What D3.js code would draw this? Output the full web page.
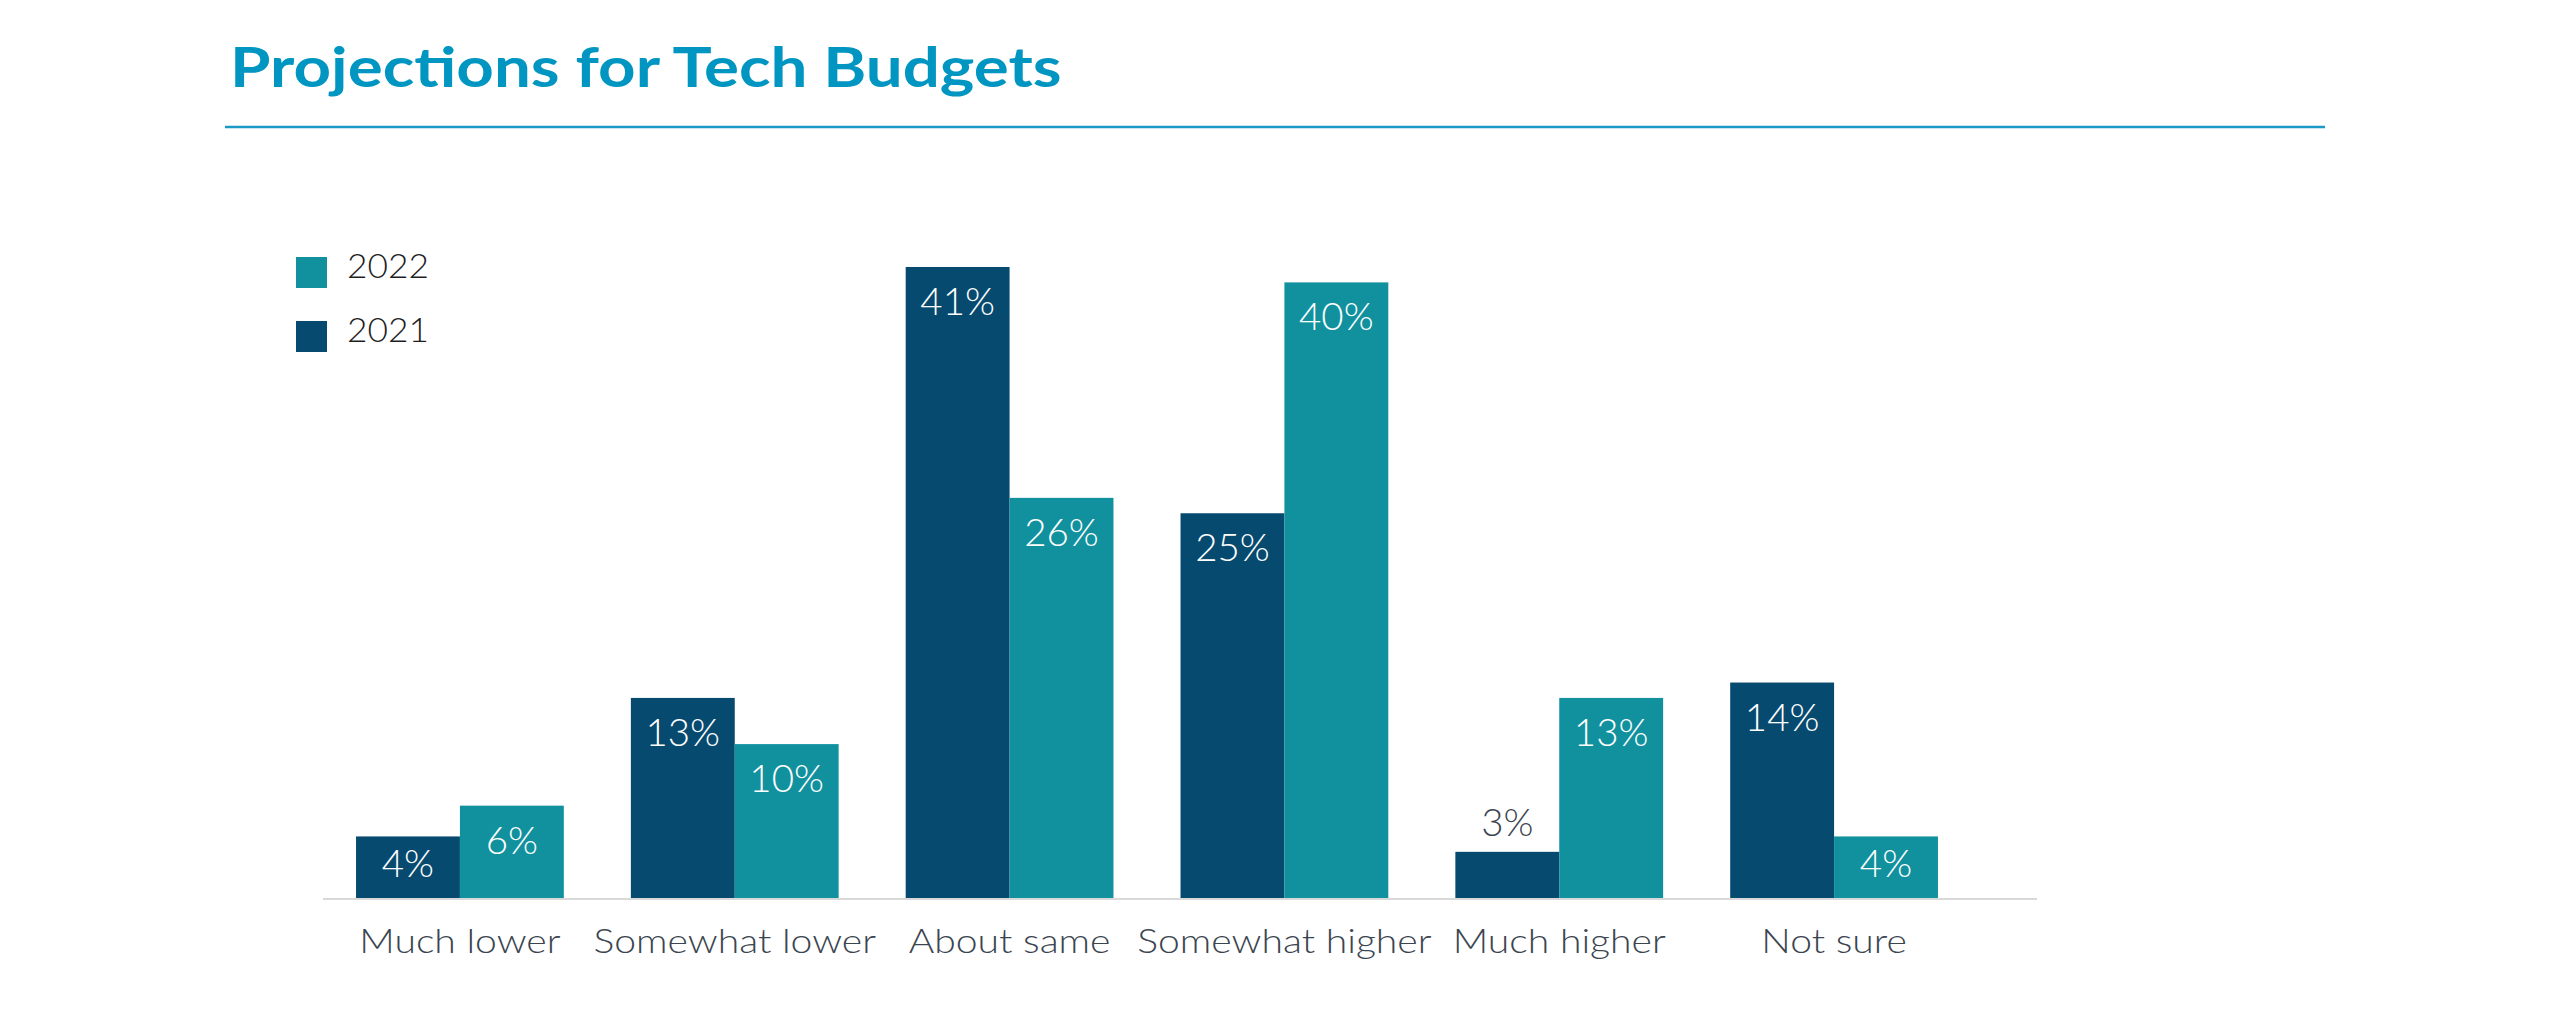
<!DOCTYPE html>
<html>
<head>
<meta charset="utf-8">
<script src="https://cdn.jsdelivr.net/npm/d3@7"></script>
<style>
  html, body { margin: 0; padding: 0; background: #fff; }
  svg { display: block; font-family: Lato, "Open Sans", sans-serif; }
</style>
</head>
<body>
<svg id="chart" width="2550" height="1019"></svg>
<script>
const categories = ["Much lower", "Somewhat lower", "About same", "Somewhat higher", "Much higher", "Not sure"];
const years = ["2021", "2022"];
const values2021 = [4, 13, 41, 25, 3, 14];
const values2022 = [6, 10, 26, 40, 13, 4];
const legendOrder = ["2022", "2021"];

const colors = { "2021": "#074a6f", "2022": "#11919e" };

const svg = d3.select("#chart");
const baseY = 898;

// the original face is wider than Lato, so stretch text a little
function widen(sel, k) {
  sel.each(function () {
    const w = this.getComputedTextLength();
    d3.select(this)
      .attr("textLength", w * k)
      .attr("lengthAdjust", "spacingAndGlyphs");
  });
}

const x = d3
  .scaleBand()
  .domain(categories)
  .range([322.5, 1971.5])
  .paddingInner(0.244)
  .paddingOuter(0.122);

const xInner = d3.scaleBand().domain(years).range([0, x.bandwidth()]);

const y = d3.scaleLinear().domain([0, 41]).range([baseY, 267]);

// title + rule
svg
  .append("text")
  .attr("x", 230)
  .attr("y", 87)
  .attr("fill", "#0096c1")
  .attr("font-size", 55)
  .attr("font-weight", 700)
  .text("Projections for Tech Budgets")
  .call(widen, 1.19);

svg
  .append("line")
  .attr("x1", 225)
  .attr("x2", 2325)
  .attr("y1", 127)
  .attr("y2", 127)
  .attr("stroke", "#1a9ac6")
  .attr("stroke-width", 2.5);

const rows = categories.map((c, i) => ({
  cat: c,
  bars: [
    { year: "2021", value: values2021[i] },
    { year: "2022", value: values2022[i] },
  ],
}));

const groups = svg
  .selectAll("g.group")
  .data(rows)
  .join("g")
  .attr("class", "group")
  .attr("transform", (d) => `translate(${x(d.cat)},0)`);

groups
  .selectAll("rect")
  .data((d) => d.bars)
  .join("rect")
  .attr("x", (d) => xInner(d.year))
  .attr("width", xInner.bandwidth())
  .attr("y", (d) => y(d.value))
  .attr("height", (d) => baseY - y(d.value))
  .attr("fill", (d) => colors[d.year]);

groups
  .selectAll("text.val")
  .data((d) => d.bars)
  .join("text")
  .attr("class", "val")
  .attr("x", (d) => xInner(d.year) + xInner.bandwidth() / 2)
  .attr("y", (d) =>
    d.value >= 4 ? Math.min(y(d.value) + 48, baseY - 21) : y(d.value) - 16,
  )
  .attr("text-anchor", "middle")
  .attr("font-size", 37)
  .attr("font-weight", 300)
  .attr("fill", (d) => (d.value >= 4 ? "#ffffff" : "#3b4550"))
  .text((d) => d.value + "%")
  .call(widen, 1.04);

// axis line
svg
  .append("line")
  .attr("x1", 323)
  .attr("x2", 2037)
  .attr("y1", baseY + 1)
  .attr("y2", baseY + 1)
  .attr("stroke", "#d9d9d9")
  .attr("stroke-width", 2);

// category labels
svg
  .selectAll("text.cat")
  .data(categories)
  .join("text")
  .attr("class", "cat")
  .attr("x", (d) => x(d) + x.bandwidth() / 2)
  .attr("y", 953)
  .attr("text-anchor", "middle")
  .attr("font-size", 34)
  .attr("font-weight", 300)
  .attr("fill", "#3b4550")
  .text((d) => d)
  .call(widen, 1.15);

// legend
const legend = svg
  .selectAll("g.legend")
  .data(legendOrder)
  .join("g")
  .attr("class", "legend")
  .attr("transform", (d, i) => `translate(296,${257 + i * 64})`);

legend
  .append("rect")
  .attr("width", 31)
  .attr("height", 31)
  .attr("fill", (d) => colors[d]);

legend
  .append("text")
  .attr("x", 51)
  .attr("y", 21)
  .attr("font-size", 33)
  .attr("font-weight", 300)
  .attr("fill", "#1f1f1f")
  .text((d) => d)
  .call(widen, 1.07);
</script>
</body>
</html>
